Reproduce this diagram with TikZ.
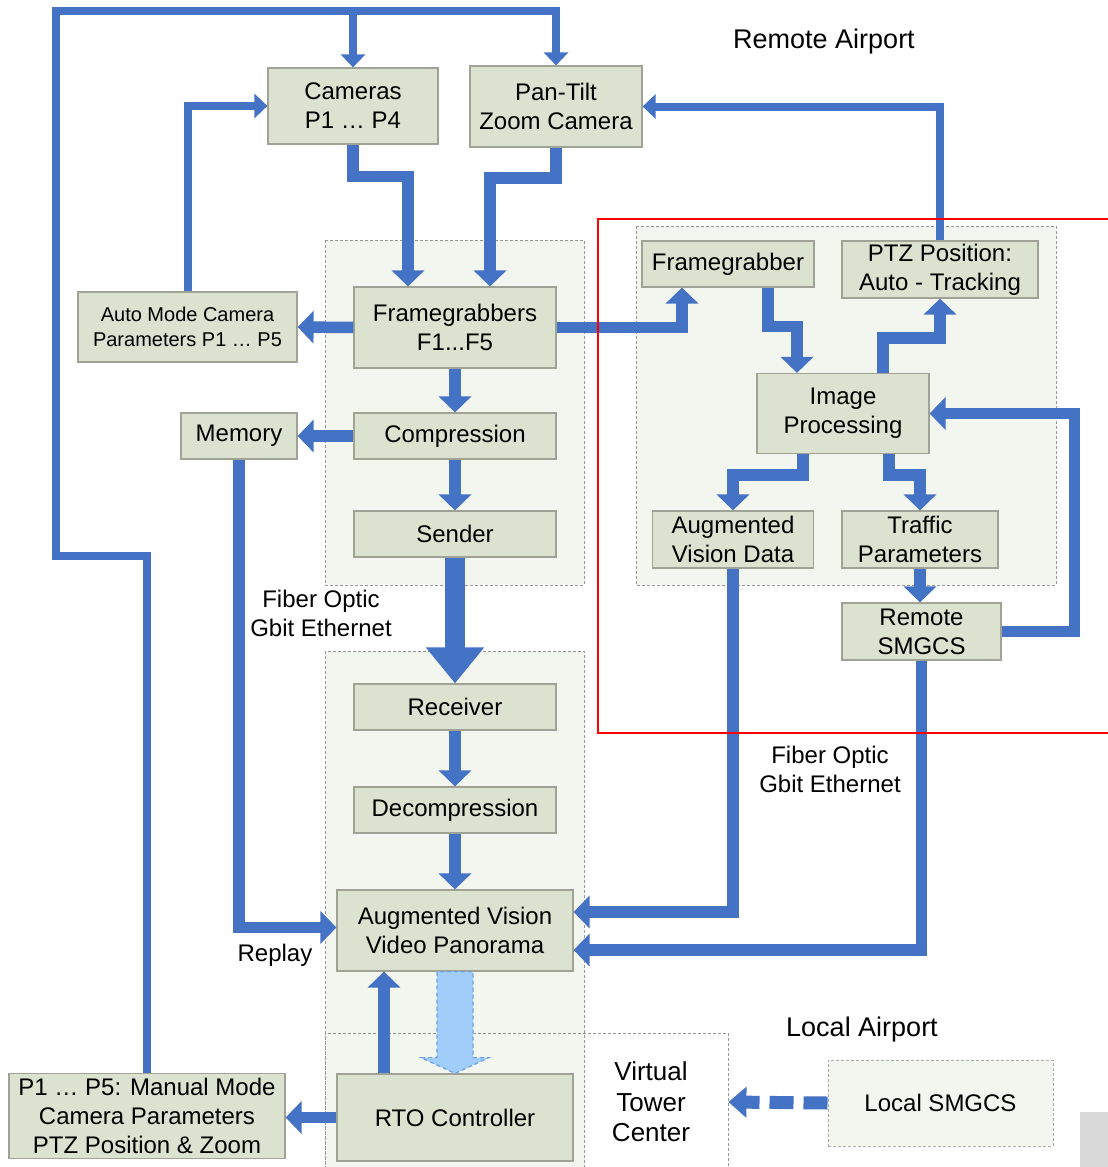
\documentclass[tikz,border=0pt]{standalone}
\usepackage{fontspec}
\setmainfont{Liberation Sans}
\usetikzlibrary{arrows.meta,calc}
\definecolor{arrowblue}{RGB}{68,114,196}
\definecolor{boxfill}{RGB}{220,226,208}
\definecolor{boxline}{RGB}{160,162,150}
\definecolor{grpfill}{RGB}{243,245,239}
\definecolor{grpline}{RGB}{150,150,150}
\definecolor{lightarrow}{RGB}{160,205,250}
\definecolor{lightarrowline}{RGB}{110,160,225}
\definecolor{cornergray}{RGB}{217,217,217}
\begin{document}
\begin{tikzpicture}[x=0.5pt,y=-0.5pt,
  box/.style={draw=boxline, fill=boxfill, line width=0.6pt, inner sep=0pt, align=center,
    font=\fontsize{12}{14.5}\selectfont},
  smallbox/.style={box, font=\fontsize{10}{12.5}\selectfont},
  dbox/.style={box, draw=grpline!80, fill=grpfill, line width=0.5pt, dash pattern=on 1.5pt off 1pt},
  grp/.style={draw=grpline, fill=grpfill, dash pattern=on 1.5pt off 1pt, line width=0.5pt},
  lbl/.style={inner sep=0pt, align=center, font=\fontsize{12}{14.5}\selectfont},
  title/.style={inner sep=0pt, align=center, font=\fontsize{13.5}{16}\selectfont},
  thickarr/.style={draw=arrowblue, line width=5.75pt, line join=miter,
    -{Triangle[width=16pt,length=8pt]}},
  thinarr/.style={draw=arrowblue, line width=4pt, line join=miter,
    -{Triangle[width=12pt,length=6.5pt]}},
  bigarr/.style={draw=arrowblue, line width=10pt,
    -{Triangle[width=28pt,length=18pt]}},
  dasharr/.style={draw=arrowblue, line width=6.5pt, dash pattern=on 12pt off 5pt,
    -{Triangle[width=15pt,length=9pt]}},
  lightarr/.style={fill=lightarrow, draw=lightarrowline, line width=0.6pt, dash pattern=on 2pt off 1.5pt}
]
\useasboundingbox (0,0) rectangle (1108,1167);
\fill[white] (0,0) rectangle (1108,1167);

% groups
\draw[grp] (325,240) rectangle (584,585);
\draw[grp] (325,651) rectangle (584,1175);
\draw[grp] (636,226) rectangle (1056,585);
\draw[grpline, line width=0.5pt, dash pattern=on 1.5pt off 1pt] (325,1175) -- (325,1033) -- (728,1033) -- (728,1175);
\fill[cornergray] (1080,1112) rectangle (1115,1175);

% boxes
\node[box, minimum width=85pt, minimum height=38pt] (cam) at (353,106) {Cameras\\P1 … P4};
\node[box, minimum width=86pt, minimum height=40.5pt] (ptzc) at (556,106.5) {Pan-Tilt\\Zoom Camera};
\node[box, minimum width=101pt, minimum height=40.5pt] (fg) at (455,327.5) {Framegrabbers\\F1...F5};
\node[smallbox, minimum width=109.5pt, minimum height=35pt] (auto) at (187.5,327) {Auto Mode Camera\\Parameters P1 … P5};
\node[box, minimum width=58pt, minimum height=23pt] (mem) at (239,436) {Memory};
\node[box, minimum width=101pt, minimum height=23pt] (comp) at (455,436) {Compression};
\node[box, minimum width=101pt, minimum height=23pt] (send) at (455,534) {Sender};
\node[box, minimum width=101pt, minimum height=23pt] (recv) at (455,707) {Receiver};
\node[box, minimum width=101pt, minimum height=23pt] (decomp) at (455,810) {Decompression};
\node[box, minimum width=118pt, minimum height=40.5pt] (avvp) at (455,930.5) {Augmented Vision\\Video Panorama};
\node[box, minimum width=118pt, minimum height=43.5pt] (rto) at (455,1117.5) {RTO Controller};
\node[box, minimum width=138pt, minimum height=42.5pt] (manual) at (147,1116) {P1 … P5: Manual Mode\\Camera Parameters\\PTZ Position \& Zoom};
\node[dbox, minimum width=112.5pt, minimum height=43pt] (lsm) at (940.5,1103) {Local SMGCS};
\node[box, minimum width=86pt, minimum height=23pt] (fg2) at (728,264) {Framegrabber};
\node[box, minimum width=98pt, minimum height=28.5pt] (ptzp) at (940,269.5) {PTZ Position:\\Auto - Tracking};
\node[box, minimum width=86pt, minimum height=40pt] (ip) at (843,413.5) {Image\\Processing};
\node[box, minimum width=80.5pt, minimum height=28.5pt] (avd) at (733,539.5) {Augmented\\Vision Data};
\node[box, minimum width=78pt, minimum height=28.5pt] (traffic) at (920,539.5) {Traffic\\Parameters};
\node[box, minimum width=79.5pt, minimum height=28.5pt] (rsm) at (921.5,631.5) {Remote\\SMGCS};

% labels
\node[title] (remote) at (824,42) {Remote Airport};
\node[title] (local) at (862,1030) {Local Airport};
\node[lbl] (fo1) at (321,613.5) {Fiber Optic\\Gbit Ethernet};
\node[lbl] (fo2) at (830,769.5) {Fiber Optic\\Gbit Ethernet};
\node[lbl] (replay) at (275,955) {Replay};
\node[inner sep=0pt, align=center, font=\fontsize{13}{15.25}\selectfont, minimum width=77pt] (vtc) at (651,1102) {Virtual\\Tower\\Center};

% outer loop
\coordinate (lpA) at (56,556);
\coordinate (lpB) at (56,11);
\draw[thinarr] (manual.north) -- (manual.north |- lpA) -- (lpA) -- (lpB) -- (ptzc.north |- lpB) -- (ptzc.north);
\draw[thinarr] (cam.north |- lpB) -- (cam.north);
\draw[thinarr] (auto.north) |- (cam.west);
\draw[thinarr] (ptzp.north) |- (ptzc.east);

% camera to framegrabbers
\draw[thickarr] (cam.south) -- ($(cam.south)+(0,32)$) -| ($(fg.north)+(-47,0)$);
\draw[thickarr] (ptzc.south) -- ($(ptzc.south)+(0,30.5)$) -| ($(fg.north)+(35,0)$);

% left column
\draw[thickarr] (fg.west) -- (auto.east);
\draw[thickarr] (fg.south) -- (comp.north);
\draw[thickarr] (comp.west) -- (mem.east);
\draw[thickarr] (comp.south) -- (send.north);
\draw[bigarr] (send.south) -- (recv.north);
\draw[thickarr] (recv.south) -- (decomp.north);
\draw[thickarr] (decomp.south) -- (avvp.north);
\draw[thickarr] (mem.south) |- ($(avvp.west)+(0,-3)$);
\draw[thickarr] ($(rto.north)+(-71,0)$) -- ($(avvp.south)+(-71,0)$);
\draw[thickarr] (rto.west) -- (rto.west -| manual.east);
\draw[lightarr] ($(avvp.south)+(-18,0)$) -- ($(avvp.south)+(-18,86)$) -- ($(avvp.south)+(-34,86)$) -- (rto.north) -- ($(avvp.south)+(34,86)$) -- ($(avvp.south)+(18,86)$) -- ($(avvp.south)+(18,0)$) -- cycle;
\draw[dasharr] (lsm.west) -- (vtc.east);

% right part
\draw[thickarr] (fg.east) -| ($(fg2.south)+(-46,0)$);
\draw[thickarr] ($(fg2.south)+(40,0)$) -- ($(fg2.south)+(40,39)$) -| ($(ip.north)+(-46,0)$);
\draw[thickarr] ($(ip.north)+(40,0)$) -- ($(ip.north)+(40,-35)$) -| (ptzp.south);
\draw[thickarr] ($(ip.south)+(-40,0)$) -- ($(ip.south)+(-40,21)$) -| (avd.north);
\draw[thickarr] ($(ip.south)+(46,0)$) -- ($(ip.south)+(46,21)$) -| (traffic.north);
\draw[thickarr] (traffic.south) -- (traffic.south |- rsm.north);
\draw[thickarr] (rsm.east) -- ($(rsm.east)+(73,0)$) |- (ip.east);
\draw[thickarr] (avd.south) |- ($(avvp.east)+(0,-18.5)$);
\draw[thickarr] (rsm.south) |- ($(avvp.east)+(0,19.5)$);

% red annotation frame
\draw[red, line width=0.8pt] (1115,219) -- (598,219) -- (598,733) -- (1115,733);
\end{tikzpicture}
\end{document}
